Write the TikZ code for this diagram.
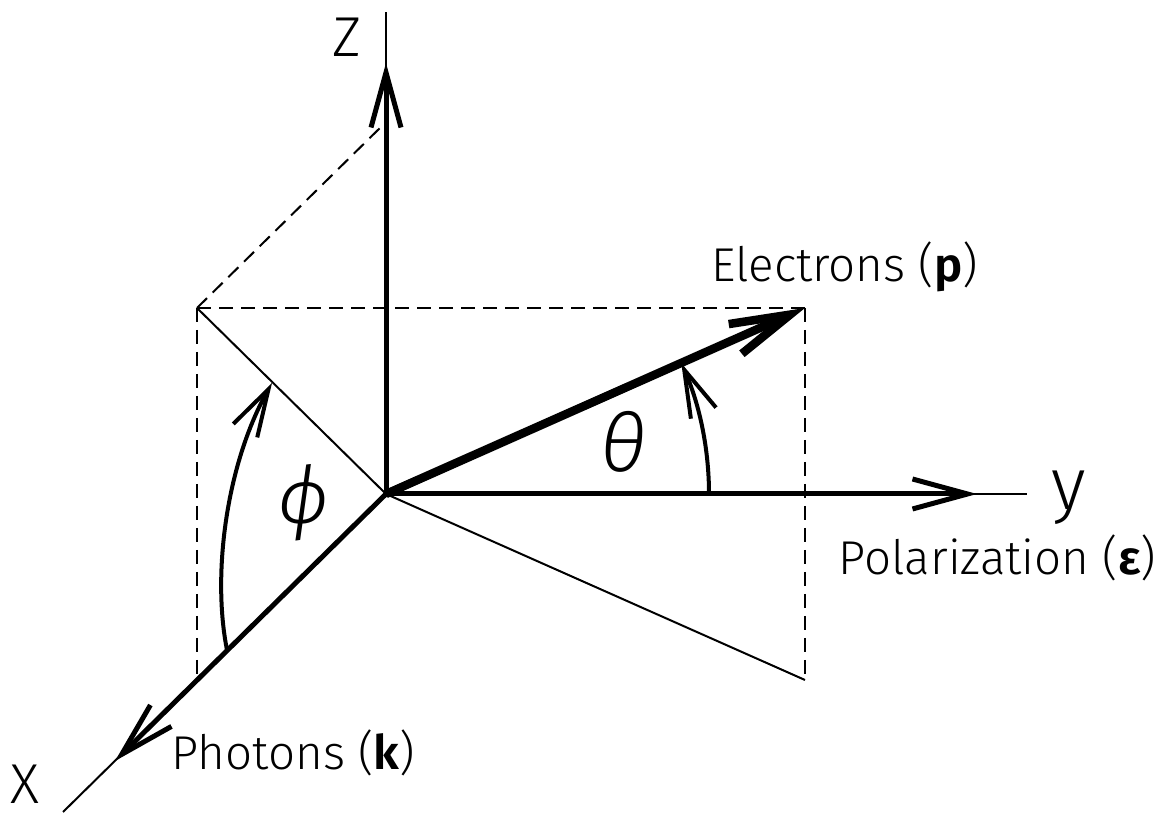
\documentclass[tikz,border=0pt]{standalone}
\usepackage{fontspec}
\setmainfont{Fira Sans Light}[BoldFont=Fira Sans SemiBold]
\usetikzlibrary{arrows.meta,calc}

\begin{document}
\begin{tikzpicture}[
  x=1cm,y=1cm,
  every node/.style={font=\fontsize{27}{32}\selectfont,text=black,inner sep=0pt},
  axis/.style={line width=.1cm,-{Straight Barb[length=1.1cm,width=.6cm]}},
  guide/.style={line width=.04cm},
  proj/.style={line width=.04cm,dash pattern=on .28cm off .16cm},
  vec/.style={line width=.17cm,-{Straight Barb[length=1.2cm,width=.65cm]}},
  angarc/.style={line width=.08cm,-{Straight Barb[length=.95cm,width=.55cm]}},
  angle label/.style={font=\fontsize{46}{50}\selectfont\itshape},
  axis label/.style={font=\fontsize{32}{36}\selectfont}
]
\path[use as bounding box] (0,0) rectangle (23.3,16.26);
\fill[white] (0,0) rectangle (23.3,16.26);

% Origin, axis tips and the far ends of the thin axis lines.
\coordinate (O) at (7.72,6.38);
\coordinate (ztip) at (7.72,15.00);
\coordinate (zend) at (7.72,16.02);
\coordinate (ytip) at (19.54,6.38);
\coordinate (yend) at (20.54,6.38);
\coordinate (xtip) at (2.30,1.04);
\coordinate (xend) at (1.26,0.02);

% Corners of the projection box around the electron vector.
\coordinate (p) at (16.10,10.10);
\coordinate (a) at (3.94,10.10);
\coordinate (aup) at (7.66,13.76);
\coordinate (b) at (3.94,2.66);
\coordinate (c) at (16.10,2.66);

\draw[proj] (a)--(p);
\draw[proj] (a)--(aup);
\draw[proj] (a)--(b);
\draw[proj] (p)--(c);
\draw[guide] (a)--(O)--(c);

% 1. The three axes: thick with an open tip, then a thin run-out.
\draw[guide] (O)--(zend);
\draw[guide] (O)--(yend);
\draw[guide] (O)--(xend);
\draw[axis] (O)--(ztip);
\draw[axis] (O)--(ytip);
\draw[axis] (O)--(xtip);

% 2. Electron direction.
\draw[vec] (O)--(p);

% 3. Angles theta and phi.
\coordinate (th0) at (14.18,6.38);
\draw[angarc] (th0) arc[start angle=0,end angle=23.9,radius=6.46];
\coordinate (ph0) at (4.54,3.26);
\coordinate (ph1) at (5.44,8.60);
\draw[angarc] (ph0) .. controls (4.24,4.76) and (4.52,6.96) .. (ph1);
\node[angle label] (theta) at (12.46,7.42) {θ};
\node[angle label] (phi) at (6.08,6.20) {ϕ};

\node[axis label] (zlabel) at (6.94,15.52) {Z};
\node[axis label] (xlabel) at (0.50,0.58) {X};
\node[font=\fontsize{42}{46}\selectfont] (ylabel) at (21.38,6.31) {y};
\node[anchor=base] (elabel) at (16.89,10.62) {Electrons (\textbf{p})};
\node[anchor=base] (plabel) at (19.95,4.76) {Polarization (\textbf{ε})};
\node[anchor=base] (klabel) at (5.87,0.86) {Photons (\textbf{k})};
\end{tikzpicture}
\end{document}
